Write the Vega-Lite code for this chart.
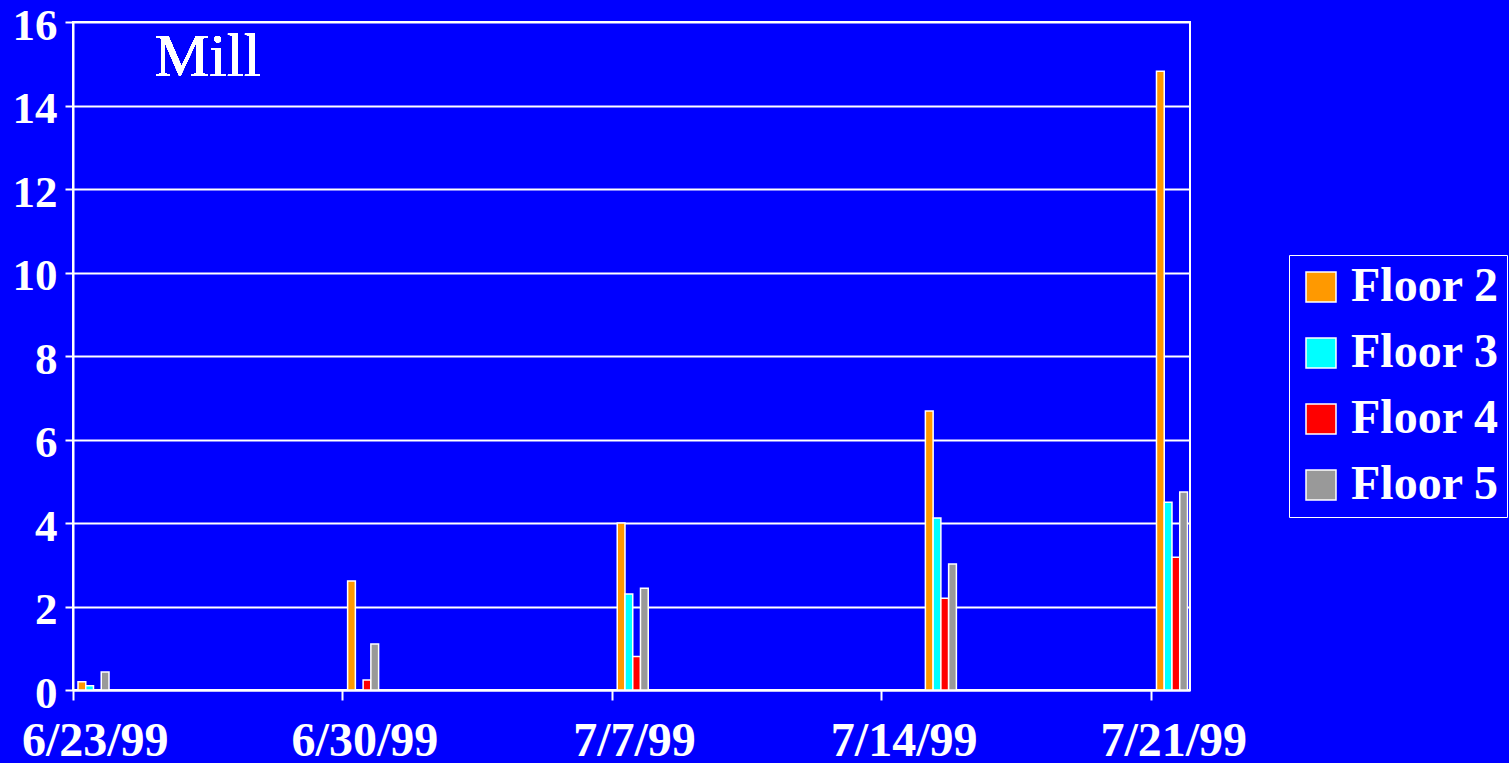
{
  "$schema": "https://vega.github.io/schema/vega-lite/v6.json",
  "width": 1117,
  "height": 668,
  "autosize": {"type": "none"},
  "padding": {"left": 73, "top": 22, "right": 319, "bottom": 73},
  "background": "#0000FF",
  "config": {
    "view": {"stroke": "white", "strokeWidth": 2},
    "font": "Liberation Serif",
    "axis": {
      "labelFont": "Liberation Serif",
      "labelFontWeight": "bold",
      "labelColor": "white",
      "domainColor": "white",
      "domainWidth": 2,
      "tickColor": "white",
      "tickWidth": 2,
      "gridColor": "white",
      "gridWidth": 2,
      "gridOpacity": 1,
      "title": null
    }
  },
  "data": {
    "values": [
      {"date": "6/23/99", "floor": "Floor 2", "value": 0.2},
      {"date": "6/23/99", "floor": "Floor 3", "value": 0.1},
      {"date": "6/23/99", "floor": "Floor 4", "value": 0},
      {"date": "6/23/99", "floor": "Floor 5", "value": 0.43},
      {"date": "6/30/99", "floor": "Floor 2", "value": 2.61},
      {"date": "6/30/99", "floor": "Floor 3", "value": 0},
      {"date": "6/30/99", "floor": "Floor 4", "value": 0.24},
      {"date": "6/30/99", "floor": "Floor 5", "value": 1.1},
      {"date": "7/7/99", "floor": "Floor 2", "value": 4.0},
      {"date": "7/7/99", "floor": "Floor 3", "value": 2.3},
      {"date": "7/7/99", "floor": "Floor 4", "value": 0.8},
      {"date": "7/7/99", "floor": "Floor 5", "value": 2.44},
      {"date": "7/15/99", "floor": "Floor 2", "value": 6.68},
      {"date": "7/15/99", "floor": "Floor 3", "value": 4.12},
      {"date": "7/15/99", "floor": "Floor 4", "value": 2.2},
      {"date": "7/15/99", "floor": "Floor 5", "value": 3.02},
      {"date": "7/21/99", "floor": "Floor 2", "value": 14.82},
      {"date": "7/21/99", "floor": "Floor 3", "value": 4.5},
      {"date": "7/21/99", "floor": "Floor 4", "value": 3.18},
      {"date": "7/21/99", "floor": "Floor 5", "value": 4.74}
    ]
  },
  "layer": [
    {
      "mark": {"type": "bar", "stroke": "white", "strokeWidth": 1.5},
      "encoding": {
        "x": {
          "field": "date",
          "type": "ordinal",
          "sort": null,
          "scale": {
            "domain": ["6/23/99", "6/24/99", "6/25/99", "6/26/99", "6/27/99", "6/28/99", "6/29/99",
                       "6/30/99", "7/1/99", "7/2/99", "7/3/99", "7/4/99", "7/5/99", "7/6/99",
                       "7/7/99", "7/8/99", "7/9/99", "7/10/99", "7/11/99", "7/12/99", "7/13/99",
                       "7/14/99", "7/15/99", "7/16/99", "7/17/99", "7/18/99", "7/19/99", "7/20/99",
                       "7/21/99"],
            "paddingInner": 0,
            "paddingOuter": 0
          },
          "axis": {
            "values": ["6/23/99", "6/30/99", "7/7/99", "7/14/99", "7/21/99"],
            "bandPosition": 0,
            "labelAngle": 0,
            "labelFontSize": 48,
            "tickSize": 10,
            "labelPadding": 17,
            "labelOffset": 3,
            "labelAlign": "center",
            "labelOverlap": false,
            "grid": false
          }
        },
        "xOffset": {
          "field": "floor",
          "type": "nominal",
          "scale": {"domain": ["Floor 2", "Floor 3", "Floor 4", "Floor 5"], "range": [5, 36], "paddingInner": 0, "paddingOuter": 0}
        },
        "y": {
          "field": "value",
          "type": "quantitative",
          "stack": null,
          "scale": {"domain": [0, 16]},
          "axis": {"values": [0, 2, 4, 6, 8, 10, 12, 14, 16], "labelFontSize": 45, "tickSize": 8, "labelPadding": 8, "labelOffset": 3, "grid": true}
        },
        "color": {
          "field": "floor",
          "type": "nominal",
          "scale": {
            "domain": ["Floor 2", "Floor 3", "Floor 4", "Floor 5"],
            "range": ["#FF9900", "#00FFFF", "#FF0000", "#999999"]
          },
          "legend": {
            "orient": "none",
            "legendX": 1216,
            "legendY": 233,
            "title": null,
            "strokeColor": "white",
            "padding": 8,
            "labelFont": "Liberation Serif",
            "labelFontSize": 48,
            "labelFontWeight": "bold",
            "labelColor": "white",
            "symbolType": "square",
            "symbolSize": 900,
            "symbolStrokeColor": "white",
            "symbolStrokeWidth": 1.5,
            "symbolOpacity": 1,
            "rowPadding": 18,
            "labelOffset": 6
          }
        }
      }
    },
    {
      "mark": {"type": "text", "text": "Mill", "font": "Liberation Serif", "fontSize": 62, "color": "white", "align": "left", "baseline": "alphabetic", "dx": -15},
      "encoding": {
        "x": {"datum": "6/25/99", "type": "ordinal"},
        "y": {"datum": 14.7, "type": "quantitative"}
      }
    }
  ]
}
